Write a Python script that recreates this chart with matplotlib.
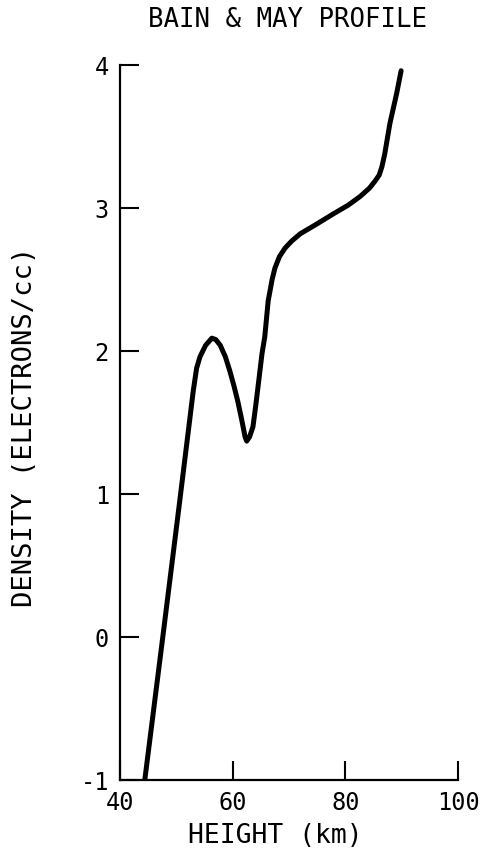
import matplotlib
matplotlib.use("Agg")
import matplotlib.pyplot as plt

# Bain & May electron density profile
height_km = [44.4, 47.5, 50.6, 53.0, 53.6, 54.2, 55.2, 56.3, 57.0, 57.8, 58.7, 59.5,
             60.2, 60.9, 61.6, 62.2, 62.5, 63.0, 63.6, 64.1, 64.5, 65.2, 65.7,
             66.3, 67.0, 67.5, 68.3, 69.3, 70.5, 72.0, 75.0, 77.9, 80.5, 82.6,
             84.3, 85.3, 86.0, 86.5, 87.0, 87.9, 89.1, 89.9]
density = [-1.0, -0.03, 0.95, 1.72, 1.88, 1.96, 2.04, 2.09, 2.08, 2.04, 1.96, 1.86,
           1.76, 1.65, 1.52, 1.40, 1.37, 1.40, 1.47, 1.62, 1.75, 1.98, 2.10,
           2.35, 2.50, 2.58, 2.66, 2.72, 2.77, 2.82, 2.89, 2.96, 3.02, 3.08,
           3.14, 3.19, 3.23, 3.29, 3.38, 3.59, 3.80, 3.96]

x_ticks = [40, 60, 80, 100]
y_ticks = [-1, 0, 1, 2, 3, 4]

plt.rcParams['font.family'] = ['DejaVu Sans Mono']

fig = plt.figure(figsize=(4.87, 8.58), dpi=100)
ax = fig.add_axes([0.2464, 0.0909, 0.6941, 0.8333])

ax.plot(height_km, density, color='black', linewidth=3.6, solid_capstyle='round',
        solid_joinstyle='round')

ax.set_xlim(40, 100)
ax.set_ylim(-1, 4)
ax.set_xticks(x_ticks)
ax.set_yticks(y_ticks)
ax.set_xticklabels([str(v) for v in x_ticks])
ax.set_yticklabels([str(v) for v in y_ticks])

for side in ('top', 'right'):
    ax.spines[side].set_visible(False)
for side in ('left', 'bottom'):
    ax.spines[side].set_linewidth(1.6)

ax.tick_params(direction='in', length=14, width=1.5, labelsize=17, pad=8)

fig.text(275 / 487, 1 - 836 / 858, 'HEIGHT (km)', ha='center', va='center',
         fontsize=19)
fig.text(25 / 487, 1 - 427 / 858, 'DENSITY (ELECTRONS/cc)', ha='center',
         va='center', rotation=90, fontsize=19.5)
fig.text(288 / 487, 1 - 20 / 858, 'BAIN & MAY PROFILE', ha='center', va='center',
         fontsize=18.5)

fig.savefig('out.png', dpi=100)
